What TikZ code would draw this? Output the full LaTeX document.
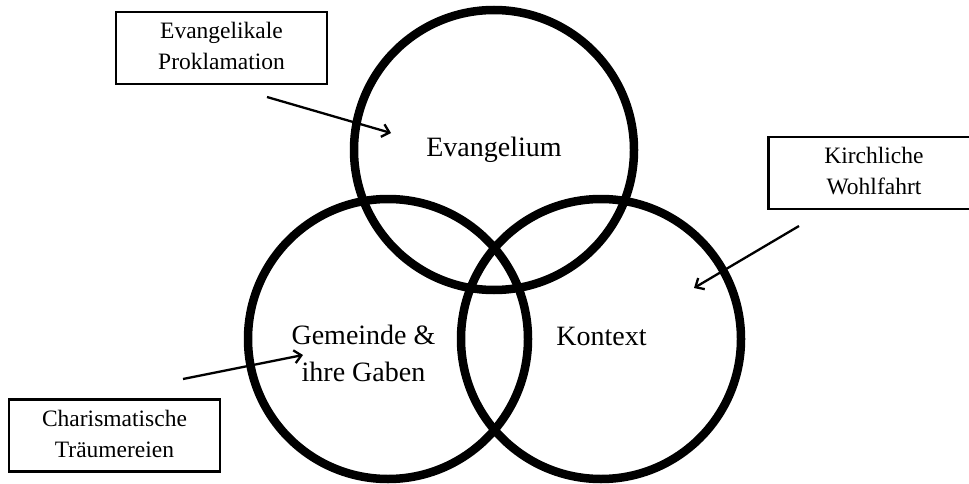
\documentclass[tikz,border=0pt]{standalone}
\usepackage{fontspec}
\setmainfont{Liberation Serif}
\usetikzlibrary{arrows.meta}
\begin{document}
\begin{tikzpicture}[x=1pt,y=-1pt,
  ring/.style={draw, circle, line width=8.5pt, minimum size=280pt, inner sep=0pt},
  ringtext/.style={font=\fontsize{28}{37}\selectfont, align=center, inner sep=0pt},
  labelbox/.style={draw, line width=2.5pt, minimum width=211pt, minimum height=72pt,
     inner sep=0pt, align=center, font=\fontsize{23.5}{31}\selectfont},
  pointer/.style={line width=2.3pt, -{Straight Barb[length=7pt,width=13pt,line width=2.3pt]}}
]
\useasboundingbox (0,0) rectangle (969,484);
\node[ring] (evc) at (494,150) {};
\node[ring] (gmc) at (388,339) {};
\node[ring] (ktc) at (601,339) {};
\node[ringtext, anchor=base] (evt) at (494,157) {Evangelium};
\node[ringtext] (gmt) at (363.5,355.6) {\strut Gemeinde \&\\\strut ihre Gaben};
\node[ringtext, anchor=base] (ktt) at (601.5,345) {Kontext};
\node[labelbox] (bev) at (221.5,48) {\strut Evangelikale\\\strut Proklamation};
\node[labelbox] (bkw) at (874,173) {\strut Kirchliche\\\strut Wohlfahrt};
\node[labelbox] (bct) at (114.5,435.5) {\strut Charismatische\\\strut Träumereien};
\coordinate (a1s) at (267,97);
\coordinate (a1e) at (391,133);
\coordinate (a2s) at (799,226);
\coordinate (a2e) at (694,288);
\coordinate (a3s) at (183,379);
\coordinate (a3e) at (303,355);
\draw[pointer] (a1s) -- (a1e);
\draw[pointer] (a2s) -- (a2e);
\draw[pointer] (a3s) -- (a3e);
\end{tikzpicture}
\end{document}
